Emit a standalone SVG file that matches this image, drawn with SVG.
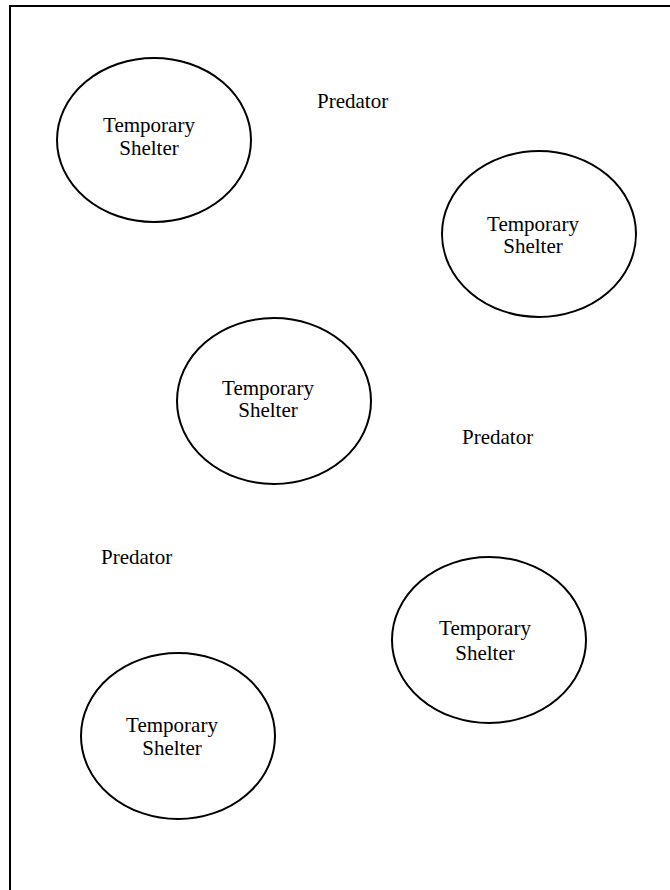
<svg xmlns="http://www.w3.org/2000/svg" width="670" height="890" viewBox="0 0 670 890">
<style>
.sh{fill:#fff;stroke:#000;stroke-width:2}
.t{font-family:"Liberation Serif","Times New Roman",serif;font-size:21px;fill:#000}
.m{text-anchor:middle}
</style>
<rect width="670" height="890" fill="#fff"/>
<path d="M10,890 V6 H670" fill="none" stroke="#000" stroke-width="2"/>
<g id="shelter1"><ellipse class="sh" cx="154" cy="140" rx="97" ry="82"/><text class="t m" x="149" y="132">Temporary</text><text class="t m" x="149" y="155">Shelter</text></g>
<g id="shelter2"><ellipse class="sh" cx="539" cy="234" rx="97" ry="83"/><text class="t m" x="533" y="231">Temporary</text><text class="t m" x="533" y="253">Shelter</text></g>
<g id="shelter3"><ellipse class="sh" cx="274" cy="401" rx="97" ry="83"/><text class="t m" x="268" y="395">Temporary</text><text class="t m" x="268" y="417">Shelter</text></g>
<g id="shelter4"><ellipse class="sh" cx="489" cy="640" rx="97" ry="83"/><text class="t m" x="485" y="635">Temporary</text><text class="t m" x="485" y="660">Shelter</text></g>
<g id="shelter5"><ellipse class="sh" cx="178" cy="736" rx="97" ry="83"/><text class="t m" x="172" y="732">Temporary</text><text class="t m" x="172" y="755">Shelter</text></g>
<g id="predator1"><text class="t" x="317" y="108">Predator</text></g>
<g id="predator2"><text class="t" x="462" y="444">Predator</text></g>
<g id="predator3"><text class="t" x="101" y="564">Predator</text></g>
<g id="connectors"/>
</svg>
